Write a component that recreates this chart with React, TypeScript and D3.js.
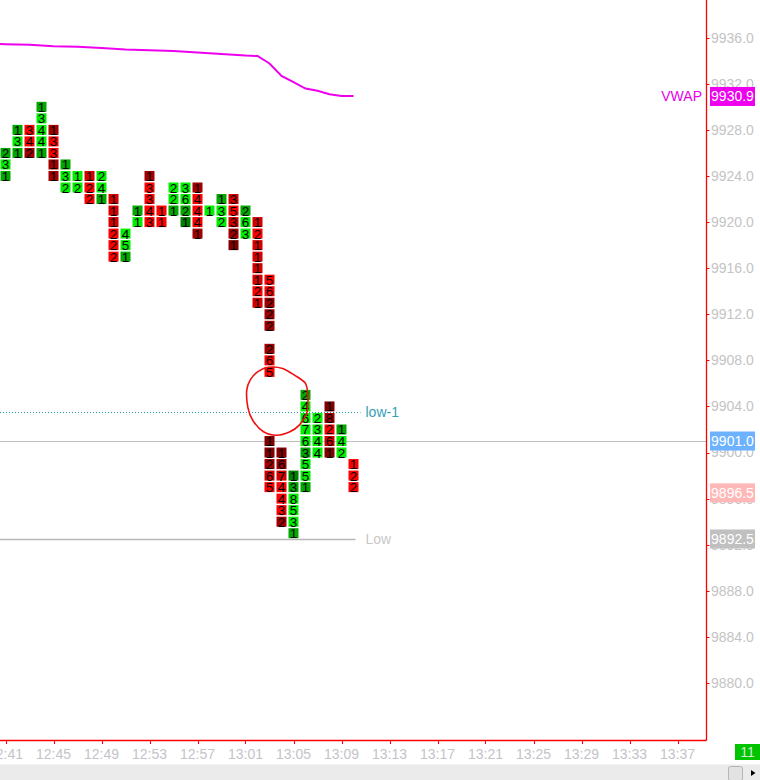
import * as d3 from "d3"

const startTime = new Date(2020, 0, 1, 12, 41)

// one column per minute from 12:41; digits/shades read top price down, " " = no print
const colTop = [9926, 9928, 9928, 9930, 9928, 9925, 9924, 9924, 9924, 9922, 9919, 9921, 9924, 9921, 9923, 9923, 9923, 9921, 9922, 9922, 9921, 9920, 9915, 9900, 9898, 9905, 9903, 9904, 9902, 9899]
const colDigits = ["231", "131", "342", "13441", "13311", "132", "12", "122", "241", "111222", "451", "11", "13343", "11", "221", "3621", "14441", "1", "132", "35321", "263", "12111121", "56222 265     11265", "1674432", "138531", "246763551", "2344", "18261", "142", "122"]
const colShades = ["gGg", "gGg", "RRd", "gGGGg", "dRRdd", "gGG", "GG", "rRR", "GGg", "rrrRRR", "GGg", "gG", "dRRRR", "RR", "GGg", "GGgh", "dRRRd", "G", "gGG", "rRrdm", "gGG", "rRrrrrRr", "RRddd dRR     mmdrR", "mdrRRRd", "hgGGGg", "gGGGGgGGg", "GGGG", "mdRrm", "gGG", "RRR"]

const vwapMinute = [-1, 0, 2, 4, 6, 8, 10, 12, 14, 16, 18, 20, 21, 22, 23, 24, 25, 26, 27, 28, 29]
const vwapValue = [9935.48, 9935.44, 9935.38, 9935.26, 9935.22, 9935.11, 9934.98, 9934.91, 9934.85, 9934.72, 9934.59, 9934.45, 9934.41, 9933.76, 9932.68, 9932.14, 9931.59, 9931.39, 9931.09, 9930.94, 9930.94]

const priceTicks = d3.range(9880, 9937, 4)
const timeTicks = d3.range(0, 57, 4)

const lastPrice = 9901.0
const vwapLast = 9930.9
const markPrice = 9896.5
const lowPrice = 9892.5
const low1Price = 9903.5

// hand drawn circle (minute, price)
const circleMinute = [21.9, 23.1, 24.1, 25.0, 25.2, 25.1, 24.5, 23.7, 22.6, 21.5, 20.6, 20.2, 20.1, 20.4, 21.0]
const circlePrice = [9907.4, 9907.3, 9906.7, 9906.0, 9904.8, 9903.4, 9902.4, 9901.8, 9901.5, 9901.8, 9902.8, 9903.9, 9905.4, 9906.3, 9907.0]

const shade: Record<string, string> = {
  G: "#00ee00",
  g: "#00a800",
  h: "#008000",
  R: "#ff0000",
  r: "#d40000",
  d: "#a00000",
  m: "#800000",
}

const W = 760
const H = 780
const axisX = 706.5
const axisY = 740.5
const font = "'Liberation Sans', Arial, sans-serif"
const labelGray = "#c4c4c4"

export default function App() {
  const t = (k: number) => startTime.getTime() + k * 60000
  const x = d3
    .scaleTime()
    .domain([startTime, d3.timeMinute.offset(startTime, 60)])
    .range([5.5, 725.5])
  const xm = (k: number) => x(new Date(t(k)))

  const y = d3.scaleLinear().domain([9880, 9936]).range([683, 37.7])
  const pitch = y(9900) - y(9901)
  const cellH = pitch - 1.5

  const cells = colTop.flatMap((top, k) =>
    colDigits[k]
      .split("")
      .map((ch, i) => ({
        key: `${k}-${i}`,
        k,
        p: top - i,
        ch,
        fill: shade[colShades[k][i]],
      }))
      .filter((c) => c.ch !== " ")
  )

  const vwapLine = d3
    .line<number>()
    .x((_, i) => xm(vwapMinute[i]))
    .y((v) => y(v))
  const circleLine = d3
    .line<number>()
    .x((_, i) => xm(circleMinute[i]))
    .y((v) => y(v))
    .curve(d3.curveCardinalClosed.tension(0.2))

  const lastCol = xm(colTop.length - 1)
  const fmt = d3.timeFormat("%H:%M")
  const snap = (v: number) => Math.round(v) + 0.5

  const box = (p: number, fill: string, label: string) => (
    <g>
      <rect x={710} y={y(p) - 9.5} width={45} height={19} fill={fill} />
      <text x={732.5} y={y(p)} dy="0.35em" textAnchor="middle" fill="#fff" fontSize={14}>
        {label}
      </text>
    </g>
  )

  return (
    <div>
      <style>{"body{margin:0}"}</style>
      <svg width={W} height={H} style={{ display: "block", fontFamily: font }}>
        <rect width={W} height={H} fill="#fff" />

        {/* level lines */}
        <line x1={0} x2={axisX} y1={snap(y(lastPrice))} y2={snap(y(lastPrice))} stroke="#c0c0c0" />
        <line x1={0} x2={lastCol + 7} y1={snap(y(low1Price))} y2={snap(y(low1Price))} stroke="#2a9aa8" strokeDasharray="1 2" />
        <line x1={0} x2={lastCol + 2} y1={snap(y(lowPrice))} y2={snap(y(lowPrice))} stroke="#b8b8b8" strokeWidth={1.5} />
        <text x={lastCol + 12} y={y(low1Price)} dy="0.35em" fontSize={14} fill="#34a0b4">low-1</text>
        <text x={lastCol + 12} y={y(lowPrice)} dy="0.35em" fontSize={14} fill="#c8c8c8">Low</text>

        {/* vwap */}
        <path d={vwapLine(vwapValue) ?? ""} fill="none" stroke="#ee00ee" strokeWidth={2} />

        {/* tpo cells */}
        {cells.map((c) => (
          <g key={c.key}>
            <rect x={xm(c.k) - 5} y={y(c.p) - cellH / 2} width={10} height={cellH} fill={c.fill} />
            <text x={xm(c.k)} y={y(c.p) + 5} textAnchor="middle" fontSize={13.5} fill="#000">
              {c.ch}
            </text>
          </g>
        ))}

        {/* annotation */}
        <path d={circleLine(circlePrice) ?? ""} fill="none" stroke="#ee1010" strokeWidth={1.6} />

        {/* axes */}
        <line x1={axisX} x2={axisX} y1={0} y2={axisY} stroke="#ff0000" strokeWidth={1.3} />
        <line x1={0} x2={axisX} y1={axisY} y2={axisY} stroke="#ff0000" strokeWidth={1.3} />
        {priceTicks.map((p) => (
          <g key={p}>
            <line x1={axisX} x2={axisX + 3} y1={snap(y(p))} y2={snap(y(p))} stroke="#ff0000" />
            <text x={711} y={y(p)} dy="0.35em" fontSize={14} fill={labelGray}>
              {d3.format(".1f")(p)}
            </text>
          </g>
        ))}
        {timeTicks.map((k) => (
          <g key={k}>
            <line x1={snap(xm(k))} x2={snap(xm(k))} y1={axisY} y2={axisY + 3.5} stroke="#ff0000" />
            <text x={xm(k)} y={759} textAnchor="middle" fontSize={14} fill="#c6c2ca">
              {fmt(new Date(t(k)))}
            </text>
          </g>
        ))}

        {/* price boxes */}
        <text x={702} y={y(vwapLast)} dy="0.35em" textAnchor="end" fontSize={14} fill="#e600e6">VWAP</text>
        {box(vwapLast, "#ee00ee", d3.format(".1f")(vwapLast))}
        {box(lastPrice, "#6cb2ff", d3.format(".1f")(lastPrice))}
        {box(markPrice, "#ffb8b8", d3.format(".1f")(markPrice))}
        {box(lowPrice, "#c0c0c0", d3.format(".1f")(lowPrice))}

        {/* status box and scrollbar */}
        <rect x={735} y={744} width={25} height={16} fill="#00c400" />
        <text x={747.5} y={752} dy="0.35em" textAnchor="middle" fontSize={14} fill="#d4ead4">11</text>
        <rect x={0} y={764.5} width={W} height={16} fill="#ebebeb" />
        <line x1={0} x2={W} y1={764.5} y2={764.5} stroke="#f4f4f4" />
        <rect x={728.5} y={766.5} width={14} height={14} rx={2} fill="#e2e2e2" stroke="#b4b4b4" />
        <path d="M751,770 L755.5,773 L751,776 Z" fill="#000" />
      </svg>
    </div>
  )
}
